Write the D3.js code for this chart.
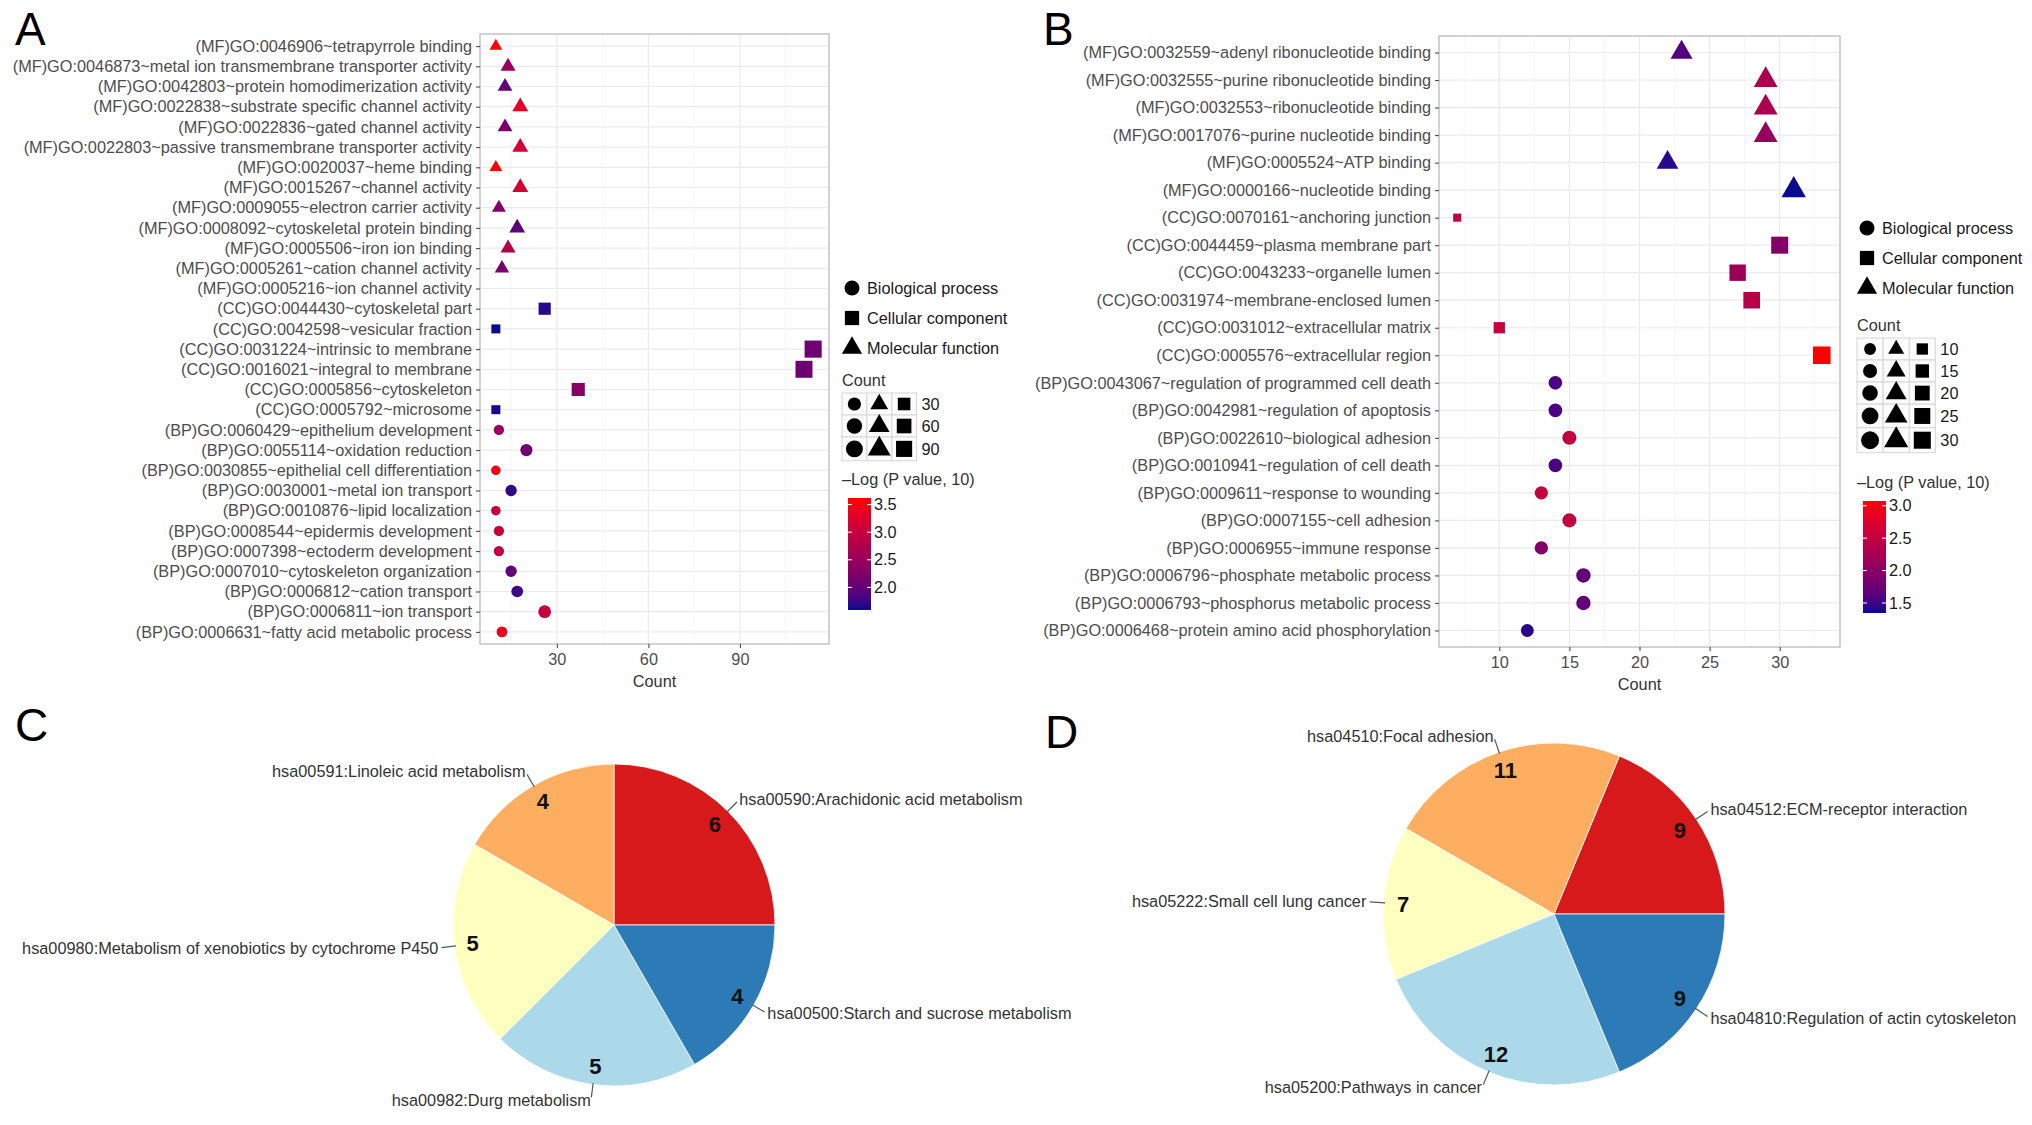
<!DOCTYPE html>
<html>
<head>
<meta charset="utf-8">
<script src="https://cdn.jsdelivr.net/npm/d3@7"></script>
<style>
    body { margin: 0; background: #ffffff; }
    text { font-family: "Liberation Sans", Arial, Helvetica, sans-serif; }
</style>
</head>
<body>
<svg id="fig" width="2032" height="1125"></svg>
<script>
// ---------- panel A : GO terms, first gene set ----------
var termsA = [
    "(MF)GO:0046906~tetrapyrrole binding",
    "(MF)GO:0046873~metal ion transmembrane transporter activity",
    "(MF)GO:0042803~protein homodimerization activity",
    "(MF)GO:0022838~substrate specific channel activity",
    "(MF)GO:0022836~gated channel activity",
    "(MF)GO:0022803~passive transmembrane transporter activity",
    "(MF)GO:0020037~heme binding",
    "(MF)GO:0015267~channel activity",
    "(MF)GO:0009055~electron carrier activity",
    "(MF)GO:0008092~cytoskeletal protein binding",
    "(MF)GO:0005506~iron ion binding",
    "(MF)GO:0005261~cation channel activity",
    "(MF)GO:0005216~ion channel activity",
    "(CC)GO:0044430~cytoskeletal part",
    "(CC)GO:0042598~vesicular fraction",
    "(CC)GO:0031224~intrinsic to membrane",
    "(CC)GO:0016021~integral to membrane",
    "(CC)GO:0005856~cytoskeleton",
    "(CC)GO:0005792~microsome",
    "(BP)GO:0060429~epithelium development",
    "(BP)GO:0055114~oxidation reduction",
    "(BP)GO:0030855~epithelial cell differentiation",
    "(BP)GO:0030001~metal ion transport",
    "(BP)GO:0010876~lipid localization",
    "(BP)GO:0008544~epidermis development",
    "(BP)GO:0007398~ectoderm development",
    "(BP)GO:0007010~cytoskeleton organization",
    "(BP)GO:0006812~cation transport",
    "(BP)GO:0006811~ion transport",
    "(BP)GO:0006631~fatty acid metabolic process"
];
// ion channel activity has no point in the figure
var countsA = [10, 14, 13, 18, 13, 18, 10, 18, 11, 17, 14, 12, null, 26, 10, 114, 111, 37, 10,
    11, 20, 10, 15, 10, 11, 11, 15, 17, 26, 12];
var logpA = [3.62, 2.5, 2.0, 3.3, 2.2, 3.15, 3.6, 3.15, 2.3, 1.95, 2.8, 2.2, null, 1.65, 1.59, 2.1, 2.1, 2.35, 1.62,
    2.5, 2.1, 3.5, 1.7, 3.0, 3.0, 2.9, 2.0, 1.75, 3.0, 3.4];
var ticksA = [30, 60, 90];
var countKeysA = [30, 60, 90];
var colorTicksA = [2.0, 2.5, 3.0, 3.5];

// ---------- panel B : GO terms, second gene set ----------
var termsB = [
    "(MF)GO:0032559~adenyl ribonucleotide binding",
    "(MF)GO:0032555~purine ribonucleotide binding",
    "(MF)GO:0032553~ribonucleotide binding",
    "(MF)GO:0017076~purine nucleotide binding",
    "(MF)GO:0005524~ATP binding",
    "(MF)GO:0000166~nucleotide binding",
    "(CC)GO:0070161~anchoring junction",
    "(CC)GO:0044459~plasma membrane part",
    "(CC)GO:0043233~organelle lumen",
    "(CC)GO:0031974~membrane-enclosed lumen",
    "(CC)GO:0031012~extracellular matrix",
    "(CC)GO:0005576~extracellular region",
    "(BP)GO:0043067~regulation of programmed cell death",
    "(BP)GO:0042981~regulation of apoptosis",
    "(BP)GO:0022610~biological adhesion",
    "(BP)GO:0010941~regulation of cell death",
    "(BP)GO:0009611~response to wounding",
    "(BP)GO:0007155~cell adhesion",
    "(BP)GO:0006955~immune response",
    "(BP)GO:0006796~phosphate metabolic process",
    "(BP)GO:0006793~phosphorus metabolic process",
    "(BP)GO:0006468~protein amino acid phosphorylation"
];
var countsB = [23, 29, 29, 29, 22, 31, 7, 30, 27, 28, 10, 33, 14, 14, 15, 14, 13, 15, 13, 16, 16, 12];
var logpB = [1.6, 2.3, 2.3, 2.1, 1.4, 1.345, 2.5, 1.95, 2.15, 2.4, 2.55, 3.074,
    1.55, 1.55, 2.5, 1.55, 2.55, 2.5, 1.95, 1.7, 1.7, 1.4];
var ticksB = [10, 15, 20, 25, 30];
var countKeysB = [10, 15, 20, 25, 30];
var colorTicksB = [1.5, 2.0, 2.5, 3.0];

// ---------- panels C and D : KEGG pathways ----------
var pathwaysC = [
    "hsa00590:Arachidonic acid metabolism",
    "hsa00591:Linoleic acid metabolism",
    "hsa00980:Metabolism of xenobiotics by cytochrome P450",
    "hsa00982:Durg metabolism",
    "hsa00500:Starch and sucrose metabolism"
];
var genesC = [6, 4, 5, 5, 4];
var pathwaysD = [
    "hsa04512:ECM-receptor interaction",
    "hsa04510:Focal adhesion",
    "hsa05222:Small cell lung cancer",
    "hsa05200:Pathways in cancer",
    "hsa04810:Regulation of actin cytoskeleton"
];
var genesD = [9, 11, 7, 12, 9];

var pieColors = ["#d7191c", "#fdae61", "#ffffbf", "#abd9e9", "#2c7bb6"];
var shapeNames = ["Biological process", "Cellular component", "Molecular function"];

var svg = d3.select("#fig");
var axisGrey = "#4d4d4d";
var fs = 16.3;

function shapeOf(key) {
    if (key == "BP") return d3.symbolCircle;
    if (key == "CC") return d3.symbolSquare;
    return d3.symbolTriangle;
}

// same area logic as R's pch 16/15/17
function symbolPath(key, diam) {
    var area = Math.PI * diam * diam / 4;
    if (key == "CC") area = Math.pow(diam * 0.95, 2);
    return d3.symbol().type(shapeOf(key)).size(area)();
}

function panelLetter(letter, x, y) {
    svg.append("text")
        .attr("x", x)
        .attr("y", y)
        .attr("font-size", 46)
        .attr("fill", "#000")
        .text(letter);
}

function dotPlot(cfg) {
    var rows = cfg.terms.map(function(t, i) {
        return { term: t, key: t.slice(1, 3), count: cfg.counts[i], logp: cfg.logp[i] };
    });
    var pts = rows.filter(function(d) { return d.count != null; });

    var ext = d3.extent(pts, function(d) { return d.count; });
    var pad = (ext[1] - ext[0]) * 0.05;
    var x = d3.scaleLinear()
        .domain([ext[0] - pad, ext[1] + pad])
        .range([cfg.left, cfg.right]);
    var y = d3.scalePoint()
        .domain(cfg.terms)
        .range([cfg.top, cfg.bottom])
        .padding(0.6);

    var cext = d3.extent(pts, function(d) { return d.logp; });
    var color = d3.scaleLinear()
        .domain(cext)
        .range(["#0a0a8f", "#ff0000"])
        .interpolate(d3.interpolateLab);

    // size ~ sqrt of rescaled count (ggplot area palette)
    var size = d3.scaleSqrt()
        .domain([0, ext[1] - ext[0]])
        .range(cfg.sizeRange);
    var diam = function(c) { return size(c - ext[0]); };

    var g = svg.append("g");

    // grid
    var step = cfg.ticks[1] - cfg.ticks[0];
    var minor = d3.range(cfg.ticks[0] - step / 2, x.domain()[1], step)
        .filter(function(v) { return v > x.domain()[0]; });
    g.selectAll("line.minor").data(minor).enter().append("line")
        .attr("x1", x).attr("x2", x)
        .attr("y1", cfg.top).attr("y2", cfg.bottom)
        .attr("stroke", "#f4f4f4").attr("stroke-width", 0.8);
    g.selectAll("line.vmajor").data(cfg.ticks).enter().append("line")
        .attr("x1", x).attr("x2", x)
        .attr("y1", cfg.top).attr("y2", cfg.bottom)
        .attr("stroke", "#ebebeb").attr("stroke-width", 1.2);
    g.selectAll("line.hmajor").data(cfg.terms).enter().append("line")
        .attr("x1", cfg.left).attr("x2", cfg.right)
        .attr("y1", y).attr("y2", y)
        .attr("stroke", "#ebebeb").attr("stroke-width", 1.2);

    g.append("rect")
        .attr("x", cfg.left).attr("y", cfg.top)
        .attr("width", cfg.right - cfg.left).attr("height", cfg.bottom - cfg.top)
        .attr("fill", "none").attr("stroke", "#c4c4c4").attr("stroke-width", 1.5);

    // axes
    var yAxis = d3.axisLeft(y).tickSize(4).tickPadding(4);
    var ya = g.append("g").attr("transform", "translate(" + cfg.left + ",0)").call(yAxis);
    var xAxis = d3.axisBottom(x).tickValues(cfg.ticks).tickSize(4).tickPadding(5);
    var xa = g.append("g").attr("transform", "translate(0," + cfg.bottom + ")").call(xAxis);
    [ya, xa].forEach(function(a) {
        a.select(".domain").remove();
        a.selectAll(".tick line").attr("stroke", "#4d4d4d").attr("stroke-width", 1.1);
        a.selectAll(".tick text")
            .attr("fill", axisGrey)
            .attr("font-size", fs)
            .attr("font-family", '"Liberation Sans", Arial, sans-serif');
    });
    g.append("text")
        .attr("x", (cfg.left + cfg.right) / 2)
        .attr("y", cfg.bottom + 37)
        .attr("dy", "0.35em")
        .attr("text-anchor", "middle")
        .attr("font-size", fs)
        .attr("fill", "#333")
        .text("Count");

    // points
    g.selectAll("path.pt").data(pts).enter().append("path")
        .attr("class", "pt")
        .attr("transform", function(d) { return "translate(" + x(d.count) + "," + y(d.term) + ")"; })
        .attr("d", function(d) { return symbolPath(d.key, diam(d.count)); })
        .attr("fill", function(d) { return color(d.logp); });

    // ---- legends ----
    var lx = cfg.legendX;
    var shapeKeys = ["BP", "CC", "MF"];
    var sl = g.append("g");
    shapeKeys.forEach(function(k, i) {
        var cy = cfg.shapeY + i * 30;
        sl.append("path")
            .attr("transform", "translate(" + (lx + 10) + "," + cy + ")")
            .attr("d", symbolPath(k, 15))
            .attr("fill", "#000");
        sl.append("text")
            .attr("x", lx + 25).attr("y", cy).attr("dy", "0.35em")
            .attr("font-size", fs).attr("fill", "#1a1a1a")
            .text(shapeNames[i]);
    });

    g.append("text")
        .attr("x", lx).attr("y", cfg.countY).attr("dy", "0.35em")
        .attr("font-size", fs).attr("fill", "#333")
        .text("Count");

    var maxTri = diam(d3.max(cfg.countKeys)) * 1.347;
    var cw = Math.max(23, maxTri + 2);
    var cellTop = cfg.countY + 13;
    cfg.countKeys.forEach(function(c) {
        var ch = Math.max(22, diam(c) * 1.166 + 4);
        var cy = cellTop + ch / 2;
        shapeKeys.forEach(function(k, j) {
            var col = [0, 2, 1][j]; // order in the key: circle, triangle, square
            g.append("rect")
                .attr("x", lx + col * cw).attr("y", cellTop)
                .attr("width", cw).attr("height", ch)
                .attr("fill", "#fcfcfc").attr("stroke", "#d6d6d6").attr("stroke-width", 1);
            g.append("path")
                .attr("transform", "translate(" + (lx + col * cw + cw / 2) + "," + cy + ")")
                .attr("d", symbolPath(k, diam(c)))
                .attr("fill", "#000");
        });
        g.append("text")
            .attr("x", lx + 3 * cw + 5).attr("y", cy).attr("dy", "0.35em")
            .attr("font-size", fs).attr("fill", "#1a1a1a")
            .text(c);
        cellTop += ch;
    });

    g.append("text")
        .attr("x", lx).attr("y", cfg.colorY).attr("dy", "0.35em")
        .attr("font-size", fs).attr("fill", "#333")
        .text("\u2013Log (P value, 10)");

    var barX = lx + 6, barW = 23, barTop = cfg.colorY + 19, barH = 112;
    var gid = "grad" + cfg.letter;
    var grad = svg.append("defs").append("linearGradient")
        .attr("id", gid)
        .attr("x1", 0).attr("y1", 1).attr("x2", 0).attr("y2", 0);
    grad.selectAll("stop").data(d3.range(0, 1.0001, 0.1)).enter().append("stop")
        .attr("offset", function(t) { return t; })
        .attr("stop-color", function(t) { return color(cext[0] + t * (cext[1] - cext[0])); });
    g.append("rect")
        .attr("x", barX).attr("y", barTop)
        .attr("width", barW).attr("height", barH)
        .attr("fill", "url(#" + gid + ")");
    var cy = d3.scaleLinear().domain(cext).range([barTop + barH, barTop]);
    cfg.colorTicks.forEach(function(v) {
        g.append("line")
            .attr("x1", barX).attr("x2", barX + 4)
            .attr("y1", cy(v)).attr("y2", cy(v))
            .attr("stroke", "#fff").attr("stroke-width", 1);
        g.append("line")
            .attr("x1", barX + barW - 4).attr("x2", barX + barW)
            .attr("y1", cy(v)).attr("y2", cy(v))
            .attr("stroke", "#fff").attr("stroke-width", 1);
        g.append("text")
            .attr("x", barX + barW + 3).attr("y", cy(v)).attr("dy", "0.35em")
            .attr("font-size", fs).attr("fill", "#1a1a1a")
            .text(v.toFixed(1));
    });
}

function pieChart(cfg) {
    var data = cfg.names.map(function(n, i) {
        return { name: n, n: cfg.values[i], color: pieColors[i] };
    });
    // ggplot polar: starts at 3 o'clock, runs counter-clockwise
    var arcs = d3.pie()
        .sort(null)
        .value(function(d) { return d.n; })
        .startAngle(Math.PI / 2)
        .endAngle(Math.PI / 2 - 2 * Math.PI)(data);
    var arc = d3.arc().innerRadius(0).outerRadius(cfg.r);

    var g = svg.append("g")
        .attr("transform", "translate(" + cfg.cx + "," + cfg.cy + ")");

    g.selectAll("path.slice").data(arcs).enter().append("path")
        .attr("d", arc)
        .attr("fill", function(d) { return d.data.color; })
        .attr("stroke", "#fff")
        .attr("stroke-width", 0.8);

    var mid = function(d) { return (d.startAngle + d.endAngle) / 2; };
    var pt = function(a, rr) { return [rr * Math.sin(a), -rr * Math.cos(a)]; };

    g.selectAll("text.val").data(arcs).enter().append("text")
        .attr("x", function(d) { return pt(mid(d), cfg.r * 0.885)[0]; })
        .attr("y", function(d) { return pt(mid(d), cfg.r * 0.885)[1]; })
        .attr("dy", "0.35em")
        .attr("text-anchor", "middle")
        .attr("font-size", 22)
        .attr("font-weight", "bold")
        .attr("fill", "#111")
        .text(function(d) { return d.data.n; });

    g.selectAll("line.lead").data(arcs).enter().append("line")
        .attr("x1", function(d) { return pt(mid(d), cfg.r * 0.99)[0]; })
        .attr("y1", function(d) { return pt(mid(d), cfg.r * 0.99)[1]; })
        .attr("x2", function(d) { return pt(mid(d), cfg.r * 1.08)[0]; })
        .attr("y2", function(d) { return pt(mid(d), cfg.r * 1.08)[1]; })
        .attr("stroke", "#4a5a5a")
        .attr("stroke-width", 1.2);

    g.selectAll("text.name").data(arcs).enter().append("text")
        .attr("x", function(d) { return pt(mid(d), cfg.r * 1.1)[0]; })
        .attr("y", function(d) { return pt(mid(d), cfg.r * 1.1)[1]; })
        .attr("dy", "0.35em")
        .attr("text-anchor", function(d) {
            var s = Math.sin(mid(d));
            return s > 0.05 ? "start" : (s < -0.05 ? "end" : "middle");
        })
        .attr("font-size", fs)
        .attr("fill", "#333")
        .text(function(d) { return d.data.name; });
}

dotPlot({
    letter: "A", terms: termsA, counts: countsA, logp: logpA, ticks: ticksA,
    countKeys: countKeysA, colorTicks: colorTicksA,
    left: 480, right: 829, top: 34, bottom: 644, sizeRange: [9.5, 18],
    legendX: 842, shapeY: 288, countY: 380, colorY: 479
});
dotPlot({
    letter: "B", terms: termsB, counts: countsB, logp: logpB, ticks: ticksB,
    countKeys: countKeysB, colorTicks: colorTicksB,
    left: 1439, right: 1840, top: 36, bottom: 647, sizeRange: [8.5, 18.5],
    legendX: 1857, shapeY: 228, countY: 325, colorY: 482
});
pieChart({ names: pathwaysC, values: genesC, cx: 614, cy: 925, r: 161 });
pieChart({ names: pathwaysD, values: genesD, cx: 1554, cy: 914, r: 171 });

panelLetter("A", 15, 45);
panelLetter("B", 1043, 45);
panelLetter("C", 15, 741);
panelLetter("D", 1045, 748);
</script>
</body>
</html>
